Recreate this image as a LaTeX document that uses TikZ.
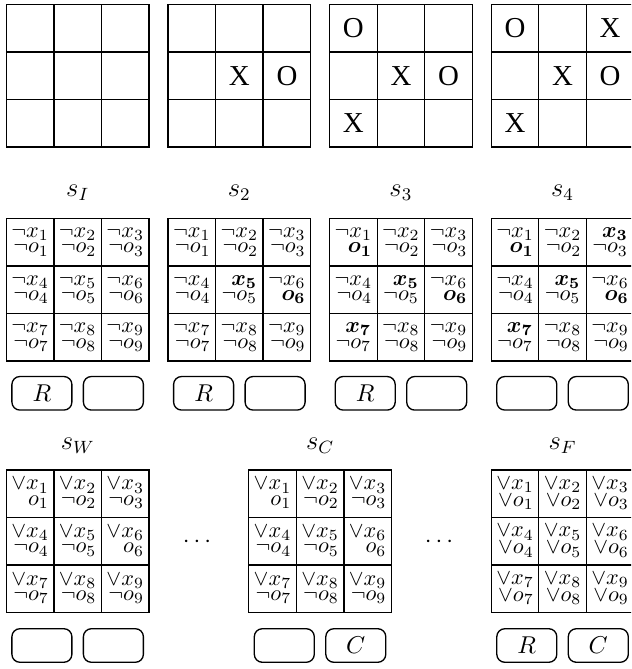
\documentclass[tikz,border=0pt]{standalone}
\usepackage{amsmath}
\usepackage{fontspec}
\usepackage{bm}
\newfontfamily\tfont{Liberation Serif}
\newcommand\cc[2]{\renewcommand\arraystretch{0.58}$\begin{array}{@{}r@{}}#1\\#2\end{array}$}
\newcommand\NN[1]{\cc{\neg x_{#1}}{\neg o_{#1}}}
\newcommand\XB[1]{\cc{\bm{x_{#1}}}{\neg o_{#1}}}
\newcommand\OB[1]{\cc{\neg x_{#1}}{\bm{o_{#1}}}}
\newcommand\VN[1]{\cc{\vee x_{#1}}{\neg o_{#1}}}
\newcommand\VP[1]{\cc{\vee x_{#1}}{o_{#1}}}
\newcommand\VV[1]{\cc{\vee x_{#1}}{\vee o_{#1}}}
\newcommand\mygrid[5]{%
  \foreach \t [count=\i from 0] in {#5}{%
    \pgfmathsetmacro\cx{#3+(mod(\i,3)+0.5)*47.57}%
    \pgfmathsetmacro\cy{#4+(floor(\i/3)+0.5)*47.57}%
    \node[#1] (#2-\i) at (\cx,\cy) {\t};
  }%
  \draw[gridline] (#3,#4) rectangle ++(142.71,142.71)
    (#3+47.57,#4) -- ++(0,142.71) (#3+95.14,#4) -- ++(0,142.71)
    (#3,#4+47.57) -- ++(142.71,0) (#3,#4+95.14) -- ++(142.71,0);
}
\begin{document}
\begin{tikzpicture}[x=0.45pt,y=-0.45pt,
  gridline/.style={line width=0.6pt, line join=miter},
  cell/.style={minimum width=21.41pt, minimum height=21.41pt,
    inner sep=0pt, outer sep=0pt, font=\fontsize{10.4pt}{12pt}\selectfont},
  tcell/.style={cell, font=\tfont\fontsize{13pt}{15pt}\selectfont},
  lab/.style={anchor=base, inner sep=0pt, font=\fontsize{12pt}{14pt}\selectfont},
  btn/.style={draw, line width=0.6pt, rounded corners=3.6pt, minimum width=27pt,
    minimum height=15.1pt, inner sep=0pt, font=\fontsize{10.5pt}{12pt}\selectfont},
  dotsn/.style={inner sep=0pt, font=\fontsize{10.5pt}{12pt}\selectfont}]
\useasboundingbox (0,0) rectangle (631,669);
\clip (0,0) rectangle (631,669);
% top boards
\mygrid{tcell}{t1}{6.3}{4.3}{{},{},{},{},{},{},{},{},{}}
\mygrid{tcell}{t2}{168}{4.3}{{},{},{},{},X,O,{},{},{}}
\mygrid{tcell}{t3}{329.6}{4.3}{O,{},{},{},X,O,X,{},{}}
\mygrid{tcell}{t4}{491.2}{4.3}{O,{},X,{},X,O,X,{},{}}
% labels row 2
\node[lab] (lI) at (77.7,197) {$s_I$};
\node[lab] (l2) at (239.3,197) {$s_2$};
\node[lab] (l3) at (400.9,197) {$s_3$};
\node[lab] (l4) at (562.5,197) {$s_4$};
% state grids row 2
\mygrid{cell}{sI}{6.3}{218.3}{\NN1,\NN2,\NN3,\NN4,\NN5,\NN6,\NN7,\NN8,\NN9}
\mygrid{cell}{s2}{168}{218.3}{\NN1,\NN2,\NN3,\NN4,\XB5,\OB6,\NN7,\NN8,\NN9}
\mygrid{cell}{s3}{329.6}{218.3}{\OB1,\NN2,\NN3,\NN4,\XB5,\OB6,\XB7,\NN8,\NN9}
\mygrid{cell}{s4}{491.2}{218.3}{\OB1,\NN2,\XB3,\NN4,\XB5,\OB6,\XB7,\NN8,\NN9}
% buttons row 2
\node[btn] (bI1) at (41.9,393.3) {$R$};
\node[btn] (bI2) at (113.4,393.3) {};
\node[btn] (b21) at (203.6,393.3) {$R$};
\node[btn] (b22) at (275.1,393.3) {};
\node[btn] (b31) at (365.2,393.3) {$R$};
\node[btn] (b32) at (436.7,393.3) {};
\node[btn] (b41) at (526.8,393.3) {};
\node[btn] (b42) at (598.3,393.3) {};
% labels row 3
\node[lab] (lW) at (77.7,449) {$s_W$};
\node[lab] (lC) at (320.1,449) {$s_C$};
\node[lab] (lF) at (562.5,449) {$s_F$};
% state grids row 3
\mygrid{cell}{sW}{6.3}{470}{\VP1,\VN2,\VN3,\VN4,\VN5,\VP6,\VN7,\VN8,\VN9}
\mygrid{cell}{sC}{248.7}{470}{\VP1,\VN2,\VN3,\VN4,\VN5,\VP6,\VN7,\VN8,\VN9}
\mygrid{cell}{sF}{491.2}{470}{\VV1,\VV2,\VV3,\VV4,\VV5,\VV6,\VV7,\VV8,\VV9}
% dots
\node[dotsn] (d1) at (199,542) {$\cdots$};
\node[dotsn] (d2) at (441,542) {$\cdots$};
% buttons row 3
\node[btn] (bW1) at (41.9,645.5) {};
\node[btn] (bW2) at (113.4,645.5) {};
\node[btn] (bC1) at (284.3,645.5) {};
\node[btn] (bC2) at (355.8,645.5) {$C$};
\node[btn] (bF1) at (526.8,645.5) {$R$};
\node[btn] (bF2) at (598.3,645.5) {$C$};
\end{tikzpicture}
\end{document}
